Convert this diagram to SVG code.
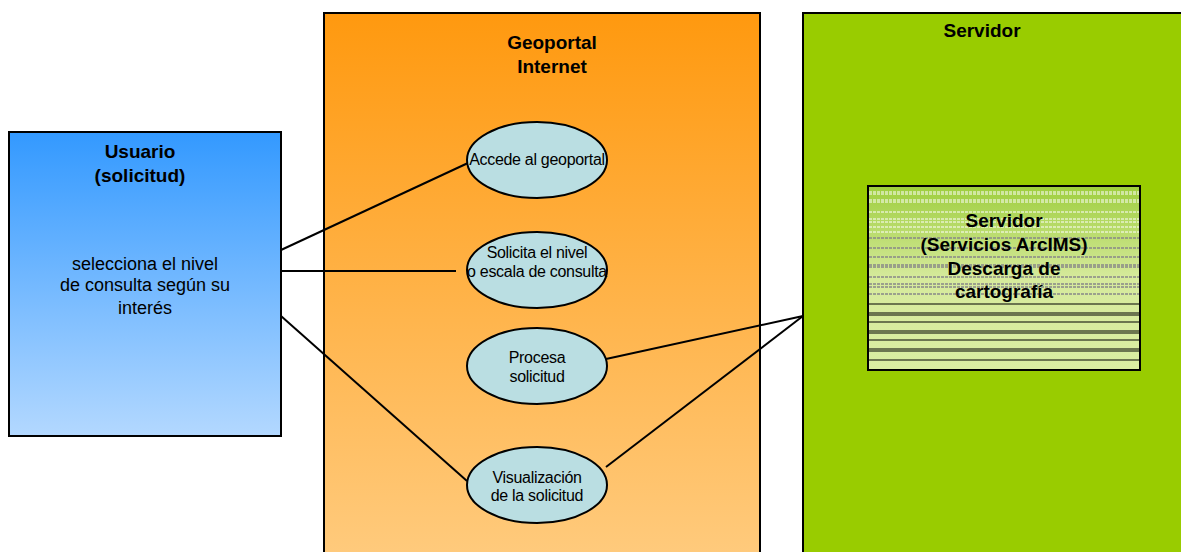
<svg xmlns="http://www.w3.org/2000/svg" width="1181" height="552" viewBox="0 0 1181 552">
<style>
.box{stroke:#000;stroke-width:2}
.ell{fill:#BADEE2;stroke:#000;stroke-width:2}
.t{font-family:"Liberation Sans",Arial,sans-serif;fill:#000;text-anchor:middle}
.b{font-weight:bold;font-size:19px}
.n{font-size:18px}
.s{font-size:16px;letter-spacing:-0.3px}
.c{stroke:#000;stroke-width:2;fill:none}
.w{stroke:#fff;stroke-width:1;stroke-dasharray:3 1}
.g{stroke:#888;stroke-width:1.5;stroke-dasharray:3 1}
.k{stroke:#000;stroke-width:1.2}
</style>
<defs>
<linearGradient id="gBlue" x1="0" y1="0" x2="0" y2="1">
<stop offset="0" stop-color="#3399FF"/><stop offset="1" stop-color="#B3D8FF"/>
</linearGradient>
<linearGradient id="gOrange" x1="0" y1="0" x2="0" y2="1">
<stop offset="0" stop-color="#FF990F"/><stop offset="1" stop-color="#FFCB7E"/>
</linearGradient>
<linearGradient id="gInner" x1="0" y1="0" x2="0" y2="1">
<stop offset="0" stop-color="#9ECE3E"/><stop offset="0.5" stop-color="#D6EA9C"/><stop offset="1" stop-color="#DAEDA2"/>
</linearGradient>
</defs>
<g id="usuario">
<rect class="box" x="9" y="132" width="272" height="304" fill="url(#gBlue)"/>
<text class="t b" x="140" y="158">Usuario</text>
<text class="t b" x="140" y="182">(solicitud)</text>
<text class="t n" x="145" y="270">selecciona el nivel</text>
<text class="t n" x="145" y="291">de consulta según su</text>
<text class="t n" x="145" y="314">interés</text>
</g>
<g id="geoportal">
<rect class="box" x="324" y="13" width="436" height="550" fill="url(#gOrange)"/>
<text class="t b" x="552" y="49">Geoportal</text>
<text class="t b" x="552" y="73">Internet</text>
</g>
<g id="servidor">
<rect class="box" x="803" y="13" width="390" height="550" fill="#99CC00"/>
<text class="t b" x="982" y="37">Servidor</text>
</g>
<g id="servidor-arcims">
<rect x="868" y="186" width="272" height="184" fill="url(#gInner)"/>
<g>
<line class="w" x1="869" y1="192" x2="1139" y2="192"/>
<line class="w" x1="869" y1="194" x2="1139" y2="194"/>
<line class="w" x1="869" y1="200" x2="1139" y2="200"/>
<line class="w" x1="869" y1="202" x2="1139" y2="202"/>
<line class="w" x1="869" y1="212" x2="1139" y2="212"/>
<line class="w" x1="869" y1="219" x2="1139" y2="219"/>
<line class="w" x1="869" y1="222" x2="1139" y2="222"/>
<line class="w" x1="869" y1="227" x2="1139" y2="227"/>
<line class="w" x1="869" y1="232" x2="1139" y2="232"/>
<line class="g" x1="869" y1="238" x2="1139" y2="238"/>
<line class="g" x1="869" y1="248" x2="1139" y2="248"/>
<line class="g" x1="869" y1="257" x2="1139" y2="257"/>
<line class="g" x1="869" y1="265" x2="1139" y2="265"/>
<line class="g" x1="869" y1="267" x2="1139" y2="267"/>
<line class="g" x1="869" y1="277" x2="1139" y2="277"/>
<line class="g" x1="869" y1="284" x2="1139" y2="284"/>
<line class="g" x1="869" y1="287" x2="1139" y2="287"/>
<line class="g" x1="869" y1="294" x2="1139" y2="294"/>
<line class="k" x1="869" y1="304" x2="1139" y2="304"/>
<line class="k" x1="869" y1="313" x2="1139" y2="313"/>
<line class="k" x1="869" y1="315" x2="1139" y2="315"/>
<line class="k" x1="869" y1="322" x2="1139" y2="322"/>
<line class="k" x1="869" y1="331" x2="1139" y2="331"/>
<line class="k" x1="869" y1="333" x2="1139" y2="333"/>
<line class="k" x1="869" y1="340" x2="1139" y2="340"/>
<line class="k" x1="869" y1="349" x2="1139" y2="349"/>
<line class="k" x1="869" y1="351" x2="1139" y2="351"/>
<line class="k" x1="869" y1="360" x2="1139" y2="360"/>
</g>
<rect x="868" y="186" width="272" height="184" fill="none" stroke="#000" stroke-width="2"/>
<text class="t b" x="1004" y="227">Servidor</text>
<text class="t b" x="1004" y="251">(Servicios ArcIMS)</text>
<text class="t b" x="1004" y="275">Descarga de</text>
<text class="t b" x="1004" y="298">cartografía</text>
</g>
<g id="connectors">
<line class="c" x1="281" y1="250" x2="468" y2="163"/>
<line class="c" x1="281" y1="271" x2="456" y2="271"/>
<line class="c" x1="281" y1="316" x2="467" y2="481"/>
<line class="c" x1="606" y1="359" x2="803" y2="316"/>
<line class="c" x1="606" y1="467" x2="803" y2="316"/>
</g>
<g id="accede">
<ellipse class="ell" cx="537" cy="160" rx="70" ry="38"/>
<text class="t s" x="537" y="165">Accede al geoportal</text>
</g>
<g id="solicita">
<ellipse class="ell" cx="537" cy="270" rx="70" ry="38"/>
<text class="t s" x="537" y="258">Solicita el nivel</text>
<text class="t s" x="537" y="277">o escala de consulta</text>
</g>
<g id="procesa">
<ellipse class="ell" cx="537" cy="366" rx="70" ry="38"/>
<text class="t s" x="537" y="363">Procesa</text>
<text class="t s" x="537" y="382">solicitud</text>
</g>
<g id="visualizacion">
<ellipse class="ell" cx="537" cy="485" rx="70" ry="38"/>
<text class="t s" x="537" y="483">Visualización</text>
<text class="t s" x="537" y="501">de la solicitud</text>
</g>
</svg>
